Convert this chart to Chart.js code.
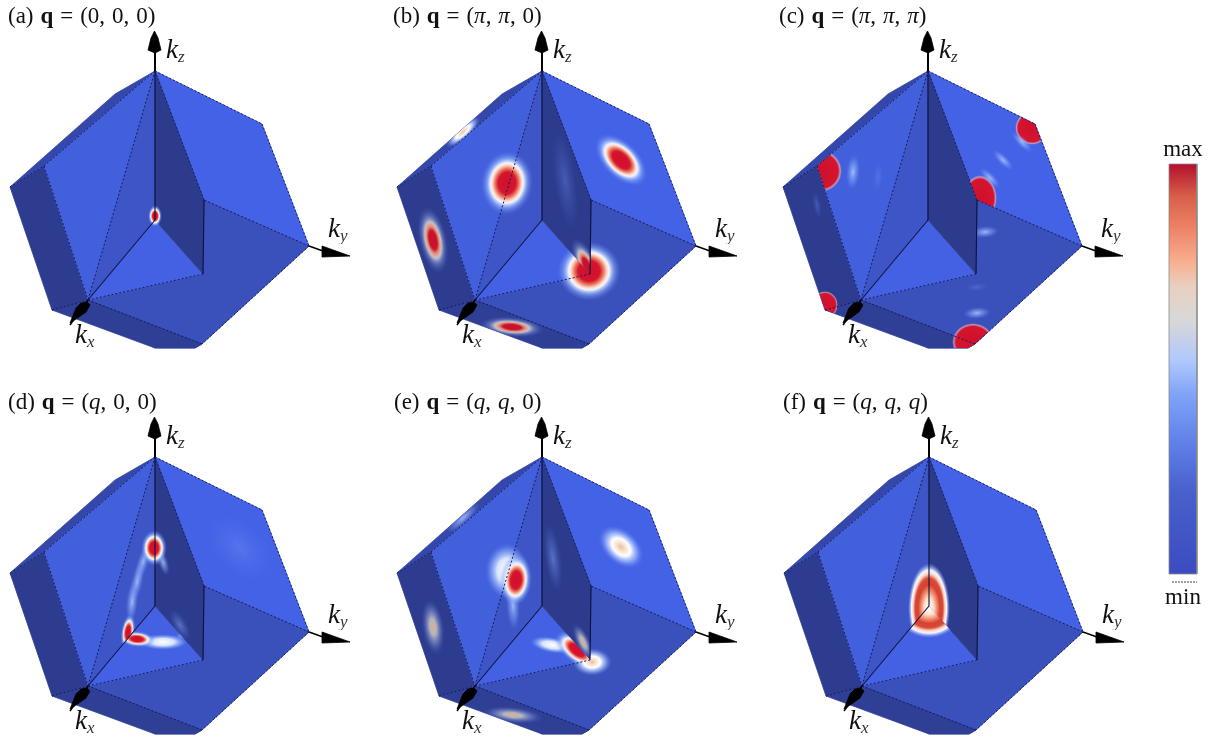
<!DOCTYPE html>
<html>
<head>
<meta charset="utf-8">
<title>Brillouin zone maps</title>
<script src="https://cdn.jsdelivr.net/npm/chart.js@4"></script>
<style>
  html, body { margin: 0; background: #fff; }
  #wrap { position: relative; width: 1216px; height: 745px; overflow: hidden; font-family: "Liberation Serif", serif; color: #111; }
  canvas { position: absolute; left: 0; top: 0; filter: blur(0.5px); }
  .title { position: absolute; font-size: 23px; word-spacing: 1.2px; white-space: nowrap; line-height: 23px; }
  .kbox { position: absolute; overflow: hidden; white-space: nowrap; font-size: 27px; font-style: italic; line-height: 32px; }
  .kbox sub { font-size: 17px; line-height: 0; vertical-align: -4px; color: #333; }
  .bar { position: absolute; font-size: 23px; line-height: 24px; width: 60px; text-align: center; }
</style>
</head>
<body>
<div id="wrap"><canvas id="c" width="1216" height="745"></canvas></div>
<script>
// panel titles
const titles = [
  "(a) <b>q</b> = (0, 0, 0)",
  "(b) <b>q</b> = (<i>π</i>, <i>π</i>, 0)",
  "(c) <b>q</b> = (<i>π</i>, <i>π</i>, <i>π</i>)",
  "(d) <b>q</b> = (<i>q</i>, 0, 0)",
  "(e) <b>q</b> = (<i>q</i>, <i>q</i>, 0)",
  "(f) <b>q</b> = (<i>q</i>, <i>q</i>, <i>q</i>)"
];
const panelX = [0, 387, 773, 0, 387, 774];
const panelY = [0, 0, 0, 386, 386, 386];
const titleX = [8, 393, 779, 8, 394, 783];

// faces of the solid
const faceLeft = [[10,187],[44,166],[88,300],[52,310]];
const faceStrip = [[155,71],[115,94],[10,187],[44,166]];
const faceLight = [[44,166],[155,71],[88,300]];
const faceTri = [[155,71],[155,220],[88,300]];
const faceWall = [[155,71],[204,200],[203,274],[155,220]];
const faceUpperR = [[155,71],[262,124],[309,246],[204,200]];
const faceMed = [[204,200],[309,246],[202,344],[195,348],[155,348],[88,300],[203,274]];
const faceFloor = [[155,220],[203,274],[88,300]];
const faceBottom = [[88,300],[202,344],[195,348],[155,348],[52,310]];

const faces = {
  left: faceLeft, strip: faceStrip, light: faceLight, tri: faceTri, wall: faceWall,
  upperR: faceUpperR, med: faceMed, floor: faceFloor, bottom: faceBottom
};
const faceOrder = ["left", "strip", "light", "tri", "upperR", "med", "bottom", "floor", "wall"];
const faceColors = {
  left: "#2d3c8e", strip: "#3447aa", light: "#4260dc", tri: "#3d55c6", wall: "#2c3b8c",
  upperR: "#4462e6", med: "#3a50ba", floor: "#4361e2", bottom: "#2f3f96"
};

// edges
const dottedEdges = [
  [[155,71],[88,300]], [[88,300],[203,274]], [[155,71],[262,124]], [[262,124],[309,246]],
  [[309,246],[204,200]], [[155,71],[204,200]], [[44,166],[88,300]], [[44,166],[155,71]],
  [[10,187],[44,166]], [[52,310],[88,300]], [[88,300],[202,344]], [[309,246],[202,344]]
];
const solidEdges = [
  [[155,71],[155,220]], [[155,220],[88,300]], [[204,200],[203,274]]
];

// axis arrows
const kzShaft = [[155,71],[155,50]];
const kzHead = [[154.5,31],[151,38],[148,50],[155,53],[161,50],[158,38]];
const kyShaft = [[309,246],[323,251]];
const kyHead = [[322,246],[350,256],[322,257]];
const kxShaft = [[88,300],[70,325]];
const kxHead = [[70,323],[76,308],[81,303],[87,302],[90,305],[86,312],[79,317]];

// hot spots per panel: faces, x, y, half width, half height, tilt, kind
const spotsA = [
  [["tri","wall","floor"], 155,216, 7,11, 0, "hot"]
];
const spotsB = [
  [["light","tri"], 120,183, 26,32, 5, "hot"],
  [["upperR"], 234,160, 32,18, 45, "hot"],
  [["left"], 46,240, 14,34, -12, "dim"],
  [["bottom"], 125,327, 32,10, 5, "dim"],
  [["floor","med"], 202,271, 32,30, 0, "hot"],
  [["wall"], 200,266, 11,30, -25, "dim"],
  [["wall"], 178,180, 11,50, -8, "glow"],
  [["strip"], 76,132, 22,7, -42, "warm"]
];
const spotsC = [
  [["upperR"], 259,128, 17,17, 0, "sat"],
  [["upperR"], 207,198, 17,23, 0, "sat"],
  [["light"], 48,171, 21,21, 0, "sat"],
  [["left","bottom"], 52,305, 13,14, 0, "sat"],
  [["med"], 200,342, 21,19, 0, "sat"],
  [["upperR"], 249,142, 14,5, 45, "faint"],
  [["upperR"], 230,160, 14,5, 45, "faint"],
  [["upperR"], 217,178, 14,5, 45, "faint"],
  [["light"], 80,172, 7,18, 5, "faint"],
  [["light"], 105,177, 5,15, 5, "glow"],
  [["med"], 212,232, 14,6, -5, "faint"],
  [["med"], 204,313, 14,6, -5, "faint"],
  [["med"], 204,287, 12,4, -5, "glow"],
  [["left"], 44,205, 4,14, -10, "glow"]
];
const spotsD = [
  [["upperR"], 240,162, 40,25, 45, "glow"],
  [["tri"], 143,176, 6,22, 18, "faint"],
  [["tri"], 137,196, 6,22, 12, "faint"],
  [["tri"], 132,216, 6,22, 5, "faint"],
  [["wall"], 163,176, 5,14, -18, "faint"],
  [["wall"], 180,239, 7,17, -30, "soft"],
  [["tri","wall"], 154,162, 13,18, 0, "hot"],
  [["tri"], 128,246, 7,18, 8, "hot"],
  [["floor"], 163,256, 25,8, 0, "white"],
  [["floor"], 185,247, 12,5, -35, "faint"],
  [["floor"], 137,253, 18,8, 5, "hot"]
];
const spotsE = [
  [["light","tri"], 120,185, 22,28, 0, "white"],
  [["tri"], 126,219, 7,26, -3, "faint"],
  [["light","tri"], 129,194, 16,26, 5, "hot"],
  [["upperR"], 234,161, 26,17, 42, "warm"],
  [["left"], 46,241, 11,28, -8, "warmDim"],
  [["bottom"], 126,329, 30,8, 6, "warmDim"],
  [["floor"], 165,259, 22,8, 10, "white"],
  [["floor","med"], 205,276, 20,14, 0, "warm"],
  [["floor"], 190,264, 26,13, 38, "hot"],
  [["wall"], 196,256, 7,20, -25, "warmDim"],
  [["wall"], 166,172, 8,34, -8, "soft"],
  [["strip"], 76,132, 22,6, -42, "faint"]
];
const spotsF = [
  [["tri","wall"], 155,222, 21,45, 0, "ring"],
  [["floor"], 155,222, 34,30, 0, "ring"]
];
const panelSpots = [spotsA, spotsB, spotsC, spotsD, spotsE, spotsF];

// color bar
const barCorners = [[1169,164],[1197,164],[1197,574],[1169,574]];
const barTick = [[1172,582],[1197,582]];
const barStops = [0, 0.08, 0.16, 0.24, 0.3, 0.38, 0.48, 0.56, 0.68, 0.8, 1];
const barColors = ["#b40f2c","#d8604a","#ee8468","#f8b090","#e8d0c0","#d8d8d8","#b0c8fc","#80a4f8","#6080e8","#4860cc","#3b4cc0"];

// gradient of each spot kind, centre to rim
const kinds = {
  hot: [[0,"#cf0f2c"],[0.34,"#d5142f"],[0.46,"#ec7a60"],[0.56,"#fcd8c8"],[0.63,"#f4f6ff"],[0.79,"rgba(150,185,255,.55)"],[1,"rgba(90,120,240,0)"]],
  sat: [[0,"#d00f2c"],[0.82,"#d5142f"],[0.92,"rgba(240,170,165,.7)"],[1,"rgba(120,150,245,0)"]],
  dim: [[0,"#c8102c"],[0.28,"#c8142e"],[0.4,"#e88a70"],[0.54,"rgba(216,208,208,.9)"],[0.72,"rgba(130,150,210,.5)"],[1,"rgba(70,90,180,0)"]],
  warm: [[0,"#edbd90"],[0.2,"#f6e2d0"],[0.42,"#ffffff"],[0.7,"rgba(170,200,255,.6)"],[1,"rgba(90,120,240,0)"]],
  warmDim: [[0,"#d8b090"],[0.3,"rgba(205,200,195,.85)"],[0.65,"rgba(130,150,210,.45)"],[1,"rgba(70,90,180,0)"]],
  white: [[0,"#ffffff"],[0.45,"rgba(235,242,255,.9)"],[0.75,"rgba(150,185,255,.5)"],[1,"rgba(90,120,240,0)"]],
  faint: [[0,"rgba(190,210,255,.8)"],[0.6,"rgba(130,165,250,.4)"],[1,"rgba(90,120,240,0)"]],
  soft: [[0,"rgba(120,150,235,.6)"],[1,"rgba(90,120,220,0)"]],
  glow: [[0,"rgba(120,150,250,.35)"],[1,"rgba(90,120,240,0)"]],
  ring: [[0,"#ffffff"],[0.22,"#fde0c8"],[0.38,"#ef8a6a"],[0.52,"#d84030"],[0.66,"#d84a38"],[0.76,"#fbd8c8"],[0.84,"#f4f6ff"],[1,"rgba(120,150,245,0)"]]
};

function sprite(kind, rx, ry) {
  const s = document.createElement("canvas");
  s.width = Math.round(rx * 2);
  s.height = Math.round(ry * 2);
  const g = s.getContext("2d");
  g.translate(s.width / 2, s.height / 2);
  g.scale(rx, ry);
  const grad = g.createRadialGradient(0, 0, 0, 0, 0, 1);
  kinds[kind].forEach(function (k) { grad.addColorStop(k[0], k[1]); });
  g.fillStyle = grad;
  g.beginPath();
  g.arc(0, 0, 1, 0, Math.PI * 2);
  g.fill();
  return s;
}

function toPts(list, dx, dy) {
  return list.map(function (p) { return { x: p[0] + dx, y: p[1] + dy }; });
}

function polygon(list, dx, dy, color) {
  return {
    type: "scatter", showLine: true, data: toPts(list.concat([list[0]]), dx, dy),
    fill: "shape", backgroundColor: color, borderColor: color, borderWidth: 0.8, pointRadius: 0
  };
}

function segment(list, dx, dy, color, width, dash) {
  return {
    type: "scatter", showLine: true, data: toPts(list, dx, dy), fill: false,
    borderColor: color, borderWidth: width, borderDash: dash || [], pointRadius: 0
  };
}

let datasets = [];
for (let p = 0; p < 6; p++) {
  const dx = panelX[p], dy = panelY[p];

  faceOrder.forEach(function (name) {
    datasets.push(polygon(faces[name], dx, dy, faceColors[name]));
  });

  panelSpots[p].forEach(function (s) {
    datasets.push({
      type: "scatter", showLine: false, data: [{ x: s[1] + dx, y: s[2] + dy }],
      pointStyle: sprite(s[6], s[3], s[4]), pointRotation: s[5], pointRadius: 5,
      clipTo: s[0].map(function (n) { return toPts(faces[n], dx, dy); })
    });
  });

  dottedEdges.forEach(function (e) { datasets.push(segment(e, dx, dy, "#141c5c", 1, [2, 2])); });
  solidEdges.forEach(function (e) { datasets.push(segment(e, dx, dy, "#0c1240", 1.1)); });

  datasets.push(segment(kzShaft, dx, dy, "#000", 2));
  datasets.push(polygon(kzHead, dx, dy, "#000"));
  datasets.push(segment(kyShaft, dx, dy, "#000", 1.5));
  datasets.push(polygon(kyHead, dx, dy, "#000"));
  datasets.push(segment(kxShaft, dx, dy, "#000", 1.5));
  datasets.push(polygon(kxHead, dx, dy, "#000"));
}

// color bar rectangle
const barSet = polygon(barCorners, 0, 0, "#8b8b8b");
barSet.backgroundColor = function (ctx) {
  const y = ctx.chart.scales.y;
  const top = y.getPixelForValue(barCorners[0][1]);
  const bottom = y.getPixelForValue(barCorners[2][1]);
  if (!isFinite(top) || !isFinite(bottom)) return "#8b8b8b";
  const grad = ctx.chart.ctx.createLinearGradient(0, top, 0, bottom);
  barStops.forEach(function (s, i) { grad.addColorStop(s, barColors[i]); });
  return grad;
};
datasets.push(barSet);
datasets.push(segment(barTick, 0, 0, "#444", 1, [2, 1]));

// chart draws the first dataset last, so flip for painter's order
datasets.reverse();

const clipPlugin = {
  id: "faceClip",
  beforeDatasetDraw: function (chart, args) {
    const ds = chart.data.datasets[args.index];
    if (!ds.clipTo) return;
    const ctx = chart.ctx, sx = chart.scales.x, sy = chart.scales.y;
    ctx.save();
    ctx.beginPath();
    ds.clipTo.forEach(function (poly) {
      poly.forEach(function (pt, i) {
        const px = sx.getPixelForValue(pt.x), py = sy.getPixelForValue(pt.y);
        if (i === 0) ctx.moveTo(px, py); else ctx.lineTo(px, py);
      });
      ctx.closePath();
    });
    ctx.clip();
  },
  afterDatasetDraw: function (chart, args) {
    if (chart.data.datasets[args.index].clipTo) chart.ctx.restore();
  }
};

new Chart(document.getElementById("c"), {
  type: "scatter",
  data: { datasets: datasets },
  plugins: [clipPlugin],
  options: {
    responsive: false,
    animation: false,
    events: [],
    layout: { padding: 0, autoPadding: false },
    elements: { line: { tension: 0 } },
    plugins: { legend: { display: false }, tooltip: { enabled: false } },
    scales: {
      x: { type: "linear", display: false, min: 0, max: 1216 },
      y: { type: "linear", display: false, min: 0, max: 745, reverse: true }
    }
  }
});

// text
const wrap = document.getElementById("wrap");
function addText(cls, html, left, top, width) {
  const d = document.createElement("div");
  d.className = cls;
  d.innerHTML = html;
  d.style.left = left + "px";
  d.style.top = top + "px";
  if (width) d.style.width = width + "px";
  wrap.appendChild(d);
}
for (let p = 0; p < 6; p++) {
  addText("title", titles[p], titleX[p], panelY[p] + 4, 0);
  addText("kbox", "k<sub>z</sub>", panelX[p] + 166, panelY[p] + 33, 40);
  addText("kbox", "k<sub>y</sub>", panelX[p] + 328, panelY[p] + 212, 22);
  addText("kbox", "k<sub>x</sub>", panelX[p] + 75, panelY[p] + 318, 40);
}
addText("bar", "max", 1153, 137);
addText("bar", "min", 1153, 585);
</script>
</body>
</html>
